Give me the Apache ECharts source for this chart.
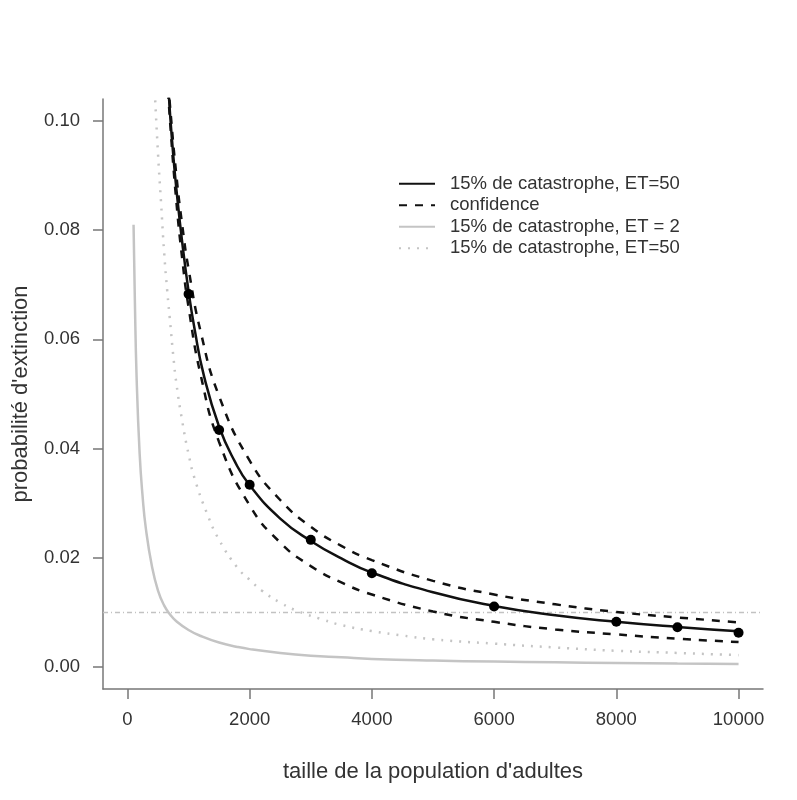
<!DOCTYPE html>
<html>
<head>
<meta charset="utf-8">
<script src="https://cdn.jsdelivr.net/npm/echarts@6/dist/echarts.min.js"></script>
<style>
  html, body { margin: 0; padding: 0; background: #ffffff; }
  #chart { width: 797px; height: 800px; }
</style>
</head>
<body>
<div id="chart"></div>
<script>
// ---- data ----
const xTicks = [0, 2000, 4000, 6000, 8000, 10000];
const yTicks = [0, 0.02, 0.04, 0.06, 0.08, 0.10];

// main fitted curve (solid black)
const mainX = [650, 700, 750, 800, 900, 1000, 1100, 1250, 1500, 1750, 2000, 2500, 3000, 3500, 4000, 5000, 6000, 7000, 8000, 9000, 10000];
const mainY = [0.1093, 0.1008, 0.0937, 0.0876, 0.0774, 0.0688, 0.0618, 0.0534, 0.0440, 0.0378, 0.0333, 0.0272, 0.0231, 0.0199, 0.0173, 0.0137, 0.0112, 0.0095, 0.0083, 0.00735, 0.00655];

// observed points (black dots)
const pointX = [1000, 1500, 2000, 3000, 4000, 6000, 8000, 9000, 10000];
const pointY = [0.0683, 0.0434, 0.0334, 0.0233, 0.0172, 0.0111, 0.0083, 0.0073, 0.0063];

// confidence band (dashed black)
const confX = [650, 700, 800, 900, 1000, 1200, 1500, 2000, 2500, 3000, 3500, 4000, 5000, 6000, 7000, 8000, 9000, 10000];
const upperY = [0.1097, 0.1023, 0.0901, 0.0806, 0.0729, 0.0613, 0.0496, 0.0378, 0.0306, 0.0257, 0.0222, 0.0196, 0.0158, 0.0133, 0.0115, 0.0101, 0.0091, 0.0082];
const lowerY = [0.1084, 0.0995, 0.0853, 0.0744, 0.0659, 0.0534, 0.0412, 0.0296, 0.0228, 0.0185, 0.0155, 0.0133, 0.0102, 0.0083, 0.0069, 0.0060, 0.0052, 0.0046];

// ET = 2 (light grey solid)
const et2X = [100, 120, 150, 200, 250, 300, 400, 500, 600, 700, 800, 1000, 1200, 1500, 1800, 2000, 2500, 3000, 3500, 4000, 5000, 6000, 7000, 8000, 9000, 10000];
const et2Y = [0.081, 0.068, 0.053, 0.039, 0.031, 0.0255, 0.0185, 0.0140, 0.0113, 0.0096, 0.0084, 0.0068, 0.0057, 0.0045, 0.0037, 0.0033, 0.0026, 0.0021, 0.0018, 0.0015, 0.0012, 0.00102, 0.00088, 0.00075, 0.00065, 0.00057];

// second ET=50 curve (grey dotted)
const dotX = [440, 500, 550, 600, 650, 700, 750, 800, 900, 1000, 1100, 1300, 1500, 1800, 2000, 2200, 2500, 2800, 3200, 3500, 4000, 4500, 5000, 6000, 7000, 8000, 9000, 10000];
const dotY = [0.1070, 0.0940, 0.0850, 0.0760, 0.0690, 0.0630, 0.0570, 0.0520, 0.0448, 0.0390, 0.0345, 0.0282, 0.0233, 0.0182, 0.0160, 0.0140, 0.0118, 0.0102, 0.0087, 0.0077, 0.0066, 0.0058, 0.0051, 0.0043, 0.0036, 0.0030, 0.0026, 0.0022];

// horizontal reference line
const refLevel = 0.01;
const xRange = [-400, 10400];
const yRange = [-0.004, 0.104];

const legendLabels = {
  main: '15% de catastrophe, ET=50',
  conf: 'confidence',
  et2: '15% de catastrophe, ET = 2',
  dotted: '15% de catastrophe, ET=50'
};

const xAxisTitle = "taille de la population d'adultes";
const yAxisTitle = "probabilité d'extinction";

function pairs(xs, ys) { return xs.map((x, i) => [x, ys[i]]); }

const FONT = 'Liberation Sans, Arial, sans-serif';
const TEXT = '#333333';
const AXIS = '#777777';
const SMOOTH = 0.5;

const chart = echarts.init(document.getElementById('chart'), null, { renderer: 'canvas' });
chart.setOption({
  animation: false,
  backgroundColor: '#ffffff',
  textStyle: { fontFamily: FONT },
  grid: { left: 103, right: 34, top: 99, bottom: 111, containLabel: false },
  legend: {
    orient: 'vertical',
    left: 398,
    top: 173,
    padding: 0,
    itemWidth: 36,
    itemHeight: 14,
    itemGap: 0,
    selectedMode: false,
    data: ['main', 'conf', 'et2', 'dotted'],
    formatter: name => legendLabels[name],
    itemStyle: { opacity: 0 },
    textStyle: { fontFamily: FONT, fontSize: 18.5, color: TEXT, lineHeight: 21.5, padding: [0, 0, 0, 10] }
  },
  xAxis: {
    type: 'value',
    min: xRange[0],
    max: xRange[1],
    name: xAxisTitle,
    nameLocation: 'middle',
    nameGap: 72,
    nameTextStyle: { fontFamily: FONT, fontSize: 22, color: TEXT },
    axisLine: { show: true, onZero: false, lineStyle: { color: AXIS, width: 1.5 } },
    axisTick: { show: true, inside: false, length: 10, customValues: xTicks, lineStyle: { color: AXIS, width: 1.5 } },
    axisLabel: { show: true, customValues: xTicks, margin: 21, fontFamily: FONT, fontSize: 18.5, color: TEXT, formatter: v => String(v) },
    splitLine: { show: false }
  },
  yAxis: {
    type: 'value',
    min: yRange[0],
    max: yRange[1],
    name: yAxisTitle,
    nameLocation: 'middle',
    nameGap: 71,
    nameRotate: 90,
    nameTextStyle: { fontFamily: FONT, fontSize: 22, color: TEXT },
    axisLine: { show: true, onZero: false, lineStyle: { color: AXIS, width: 1.5 } },
    axisTick: { show: true, inside: false, length: 10, customValues: yTicks, lineStyle: { color: AXIS, width: 1.5 } },
    axisLabel: { show: true, customValues: yTicks, margin: 23, fontFamily: FONT, fontSize: 18.5, color: TEXT, formatter: v => v.toFixed(2) },
    splitLine: { show: false }
  },
  series: [
    {
      name: 'ref', type: 'line', symbol: 'none', silent: true, clip: true,
      data: [[xRange[0], refLevel], [xRange[1], refLevel]],
      lineStyle: { color: '#c2c2c2', width: 1.5, type: [5, 3, 1, 3] },
      z: 1
    },
    {
      name: 'et2', type: 'line', symbol: 'none', smooth: SMOOTH, clip: true,
      data: pairs(et2X, et2Y),
      lineStyle: { color: '#c4c4c4', width: 2.5, type: 'solid' },
      itemStyle: { color: '#c4c4c4' },
      z: 2
    },
    {
      name: 'dotted', type: 'line', symbol: 'none', smooth: SMOOTH, clip: true,
      data: pairs(dotX, dotY),
      lineStyle: { color: '#c4c4c4', width: 2.5, type: [2, 7] },
      itemStyle: { color: '#c4c4c4' },
      z: 2
    },
    {
      name: 'conf', type: 'line', symbol: 'none', smooth: SMOOTH, clip: true,
      data: pairs(confX, upperY),
      lineStyle: { color: '#111111', width: 2.5, type: [8, 8] },
      itemStyle: { color: '#111111' },
      z: 3
    },
    {
      name: 'conf', type: 'line', symbol: 'none', smooth: SMOOTH, clip: true,
      data: pairs(confX, lowerY),
      lineStyle: { color: '#111111', width: 2.5, type: [8, 8] },
      itemStyle: { color: '#111111' },
      z: 3
    },
    {
      name: 'main', type: 'line', symbol: 'none', smooth: SMOOTH, clip: true,
      data: pairs(mainX, mainY),
      lineStyle: { color: '#111111', width: 2.5, type: 'solid' },
      itemStyle: { color: '#111111' },
      z: 4
    },
    {
      name: 'points', type: 'scatter', symbol: 'circle', symbolSize: 10,
      data: pairs(pointX, pointY),
      itemStyle: { color: '#000000', opacity: 1 },
      z: 10
    }
  ]
});
</script>
</body>
</html>
